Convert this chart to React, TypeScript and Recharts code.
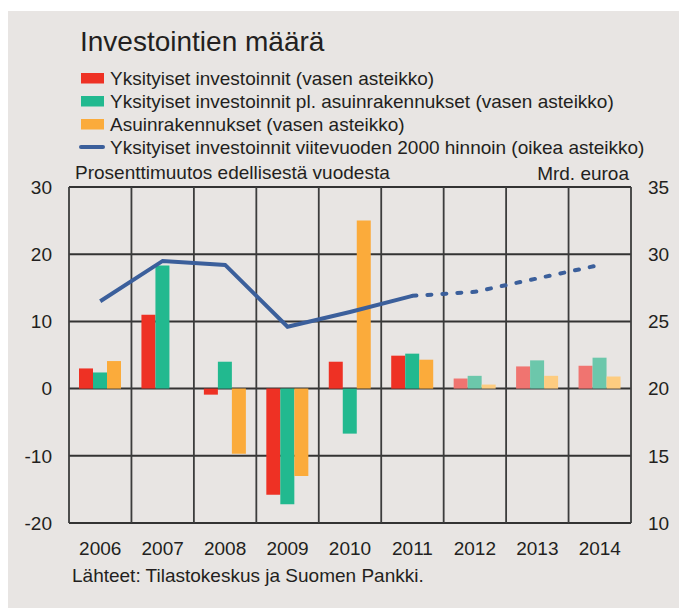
import React from "react";
import {
  ComposedChart,
  Bar,
  Line,
  XAxis,
  YAxis,
  CartesianGrid,
  Cell,
} from "recharts";

const years = ["2006", "2007", "2008", "2009", "2010", "2011", "2012", "2013", "2014"];
const privateInv = [3.0, 11.0, -0.9, -15.8, 4.0, 4.9, 1.5, 3.3, 3.4];
const privateExclHousing = [2.4, 18.3, 4.0, -17.2, -6.7, 5.2, 1.9, 4.2, 4.6];
const housing = [4.1, 0, -9.7, -13.0, 25.0, 4.3, 0.6, 1.9, 1.8];
const volumeActual = [26.5, 29.5, 29.2, 24.6, 25.7, 26.9, null, null, null];
const volumeForecast = [null, null, null, null, null, 26.9, 27.2, 28.2, 29.2];
const forecastYears = ["2012", "2013", "2014"];

const leftDomain = [-20, 30];
const leftTicks = [-20, -10, 0, 10, 20, 30];
const rightDomain = [10, 35];
const rightTicks = [10, 15, 20, 25, 30, 35];

const legendLabels = [
  "Yksityiset investoinnit (vasen asteikko)",
  "Yksityiset investoinnit pl. asuinrakennukset (vasen asteikko)",
  "Asuinrakennukset (vasen asteikko)",
  "Yksityiset investoinnit viitevuoden 2000 hinnoin (oikea asteikko)",
];

const data = years.map((y, i) => ({
  year: y,
  a: privateInv[i],
  b: privateExclHousing[i],
  c: housing[i],
  v: volumeActual[i],
  f: volumeForecast[i],
}));

const FONT = "'Liberation Sans', Arial, Helvetica, sans-serif";
const TEXT = "#231f20";
const RED = "#ee3124";
const GREEN = "#22b98f";
const ORANGE = "#fbab3b";
const RED_L = "#f07470";
const GREEN_L = "#6cc7ab";
const ORANGE_L = "#fdcc80";
const BLUE = "#3b5f9b";
const BG = "#e8e5e3";
const GRID = "#333333";

const MARGIN = { top: 187, right: 0, bottom: 55, left: 9 };

const isForecast = (y: string) => forecastYears.includes(y);

const vGen = ({ offset }: any) =>
  years
    .map((_, i) => offset.left + (i * offset.width) / years.length)
    .concat([offset.left + offset.width]);

function GridLayer() {
  // Background chart: same layout and scales, draws only the horizontal grid.
  return (
    <ComposedChart width={679} height={608} data={data} margin={MARGIN} barCategoryGap="16%" barGap={0}>
      <CartesianGrid stroke={GRID} strokeWidth={2} yAxisId="left" vertical={false} />
      <XAxis dataKey="year" stroke="transparent" />
      <YAxis yAxisId="left" domain={leftDomain} ticks={leftTicks} width={60} stroke="transparent" />
      <YAxis
        yAxisId="right"
        orientation="right"
        domain={rightDomain}
        ticks={rightTicks}
        width={48}
        stroke="transparent"
      />
      <Bar yAxisId="left" dataKey="a" fill="transparent" isAnimationActive={false} />
      <Line yAxisId="right" dataKey="v" stroke="transparent" dot={false} isAnimationActive={false} />
    </ComposedChart>
  );
}

export default function App() {
  return (
    <div
      style={{
        position: "absolute",
        left: 0,
        top: 0,
        width: 679,
        height: 608,
        background: "#ffffff",
        overflow: "hidden",
      }}
    >
      <div
        style={{
          position: "absolute",
          left: 8,
          top: 11,
          width: 671,
          height: 597,
          background: BG,
        }}
      />
      <div style={{ position: "absolute", left: 0, top: 0 }}>
        <GridLayer />
      </div>
      <div style={{ position: "absolute", left: 0, top: 0 }}>
        <ComposedChart
          width={679}
          height={608}
          data={data}
          margin={MARGIN}
          barCategoryGap="16%"
          barGap={0}
        >
          <CartesianGrid
            stroke="#3c3c3c"
            strokeWidth={1.8}
            horizontal={false}
            verticalCoordinatesGenerator={vGen}
          />
          <XAxis
            dataKey="year"
            axisLine={false}
            tickLine={false}
            tickMargin={13}
            height={30}
            tick={{ fontFamily: FONT, fontSize: 19, fill: TEXT }}
          />
          <YAxis
            yAxisId="left"
            domain={leftDomain}
            ticks={leftTicks}
            axisLine={false}
            tickSize={0}
            tickMargin={17}
            width={60}
            tick={{ fontFamily: FONT, fontSize: 19, fill: TEXT }}
          />
          <YAxis
            yAxisId="right"
            orientation="right"
            domain={rightDomain}
            ticks={rightTicks}
            axisLine={false}
            tickSize={0}
            tickMargin={17}
            width={48}
            tick={{ fontFamily: FONT, fontSize: 19, fill: TEXT }}
          />
          <Bar yAxisId="left" dataKey="a" isAnimationActive={false}>
            {data.map((d) => (
              <Cell key={d.year} fill={isForecast(d.year) ? RED_L : RED} />
            ))}
          </Bar>
          <Bar yAxisId="left" dataKey="b" isAnimationActive={false}>
            {data.map((d) => (
              <Cell key={d.year} fill={isForecast(d.year) ? GREEN_L : GREEN} />
            ))}
          </Bar>
          <Bar yAxisId="left" dataKey="c" isAnimationActive={false}>
            {data.map((d) => (
              <Cell key={d.year} fill={isForecast(d.year) ? ORANGE_L : ORANGE} />
            ))}
          </Bar>
          <Line
            yAxisId="right"
            dataKey="v"
            type="linear"
            stroke={BLUE}
            strokeWidth={4}
            dot={false}
            activeDot={false}
            connectNulls={false}
            isAnimationActive={false}
          />
          <Line
            yAxisId="right"
            dataKey="f"
            type="linear"
            stroke={BLUE}
            strokeWidth={4}
            strokeDasharray="4 11"
            strokeLinecap="round"
            dot={false}
            activeDot={false}
            connectNulls={false}
            isAnimationActive={false}
          />
        </ComposedChart>
      </div>
      <svg
        width={679}
        height={180}
        style={{ position: "absolute", left: 0, top: 0, pointerEvents: "none" }}
      >
        <text x={80} y={51} fontFamily={FONT} fontSize={28} fill={TEXT}>
          Investointien määrä
        </text>
        <rect x={81} y={73} width={23} height={10.5} fill={RED} />
        <rect x={81} y={96} width={23} height={10.5} fill={GREEN} />
        <rect x={81} y={119} width={23} height={10.5} fill={ORANGE} />
        <line x1={81} y1={147} x2={103} y2={147} stroke={BLUE} strokeWidth={4} strokeLinecap="round" />
        {legendLabels.map((l, i) => (
          <text key={l} x={110} y={85 + i * 23} fontFamily={FONT} fontSize={19} fill={TEXT}>
            {l}
          </text>
        ))}
      </svg>
      <div
        style={{
          position: "absolute",
          left: 75,
          top: 162,
          fontFamily: FONT,
          fontSize: 19,
          color: TEXT,
          lineHeight: "22px",
          whiteSpace: "nowrap",
        }}
      >
        Prosenttimuutos edellisestä vuodesta
      </div>
      <div
        style={{
          position: "absolute",
          right: 679 - 629,
          top: 163,
          fontFamily: FONT,
          fontSize: 19,
          color: TEXT,
          lineHeight: "22px",
          whiteSpace: "nowrap",
        }}
      >
        Mrd. euroa
      </div>
      <div
        style={{
          position: "absolute",
          left: 72,
          top: 565,
          fontFamily: FONT,
          fontSize: 19,
          color: TEXT,
          lineHeight: "22px",
          whiteSpace: "nowrap",
        }}
      >
        Lähteet: Tilastokeskus ja Suomen Pankki.
      </div>
    </div>
  );
}
